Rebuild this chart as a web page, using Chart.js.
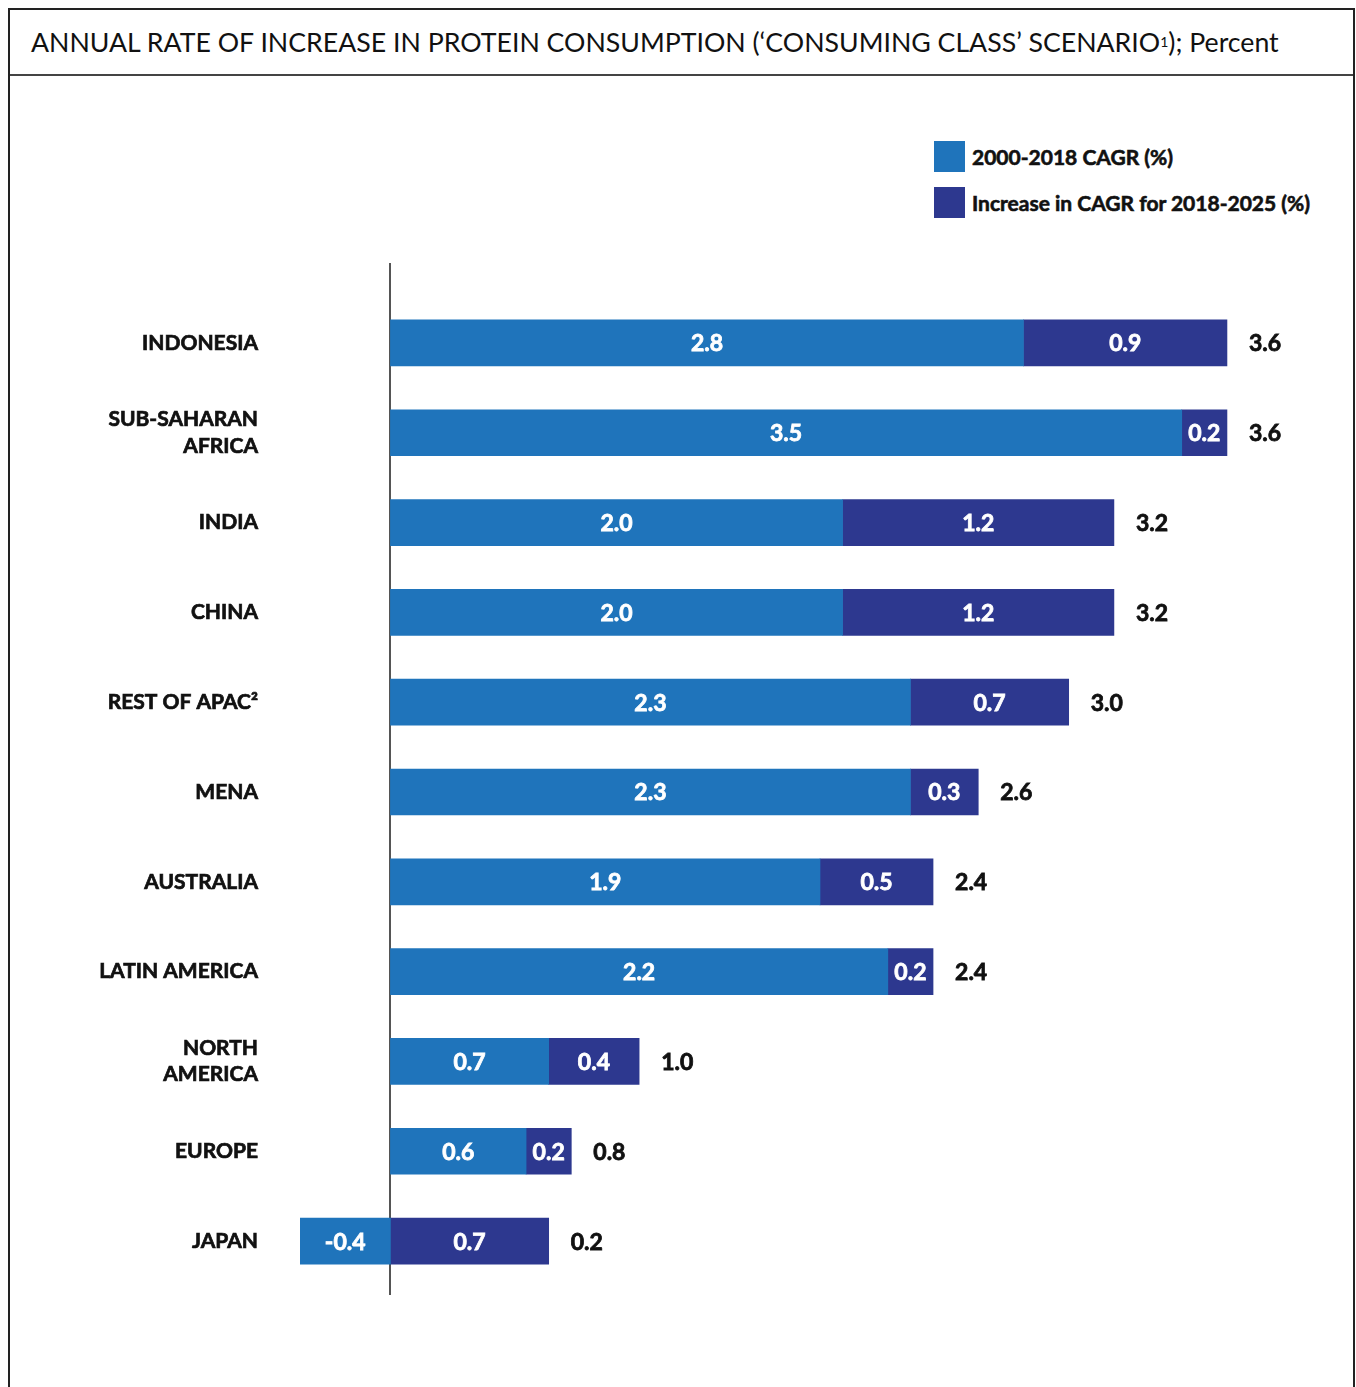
<!DOCTYPE html>
<html>
<head>
<meta charset="utf-8">
<script src="https://cdn.jsdelivr.net/npm/chart.js@4.4.1/dist/chart.umd.min.js"></script>
<style>
  html, body { margin: 0; padding: 0; background: #fff; font-family: Lato, sans-serif; }
  #wrap { position: relative; width: 1356px; height: 1387px; overflow: hidden; }
  .card { position: absolute; left: 8px; top: 8px; width: 1343px; height: 1420px; border: 2px solid #222; }
  .card .title { height: 64px; border-bottom: 2px solid #444; display: flex; align-items: center;
    padding-left: 21px; font-size: 26.7px; color: #111; }
  .card .title sup { font-size: 14px; vertical-align: 10px; line-height: 0; }
  #legend { position: absolute; left: 934px; top: 141px; }
  #legend .item { display: flex; align-items: center; height: 31px; margin-bottom: 15px;
    font-weight: bold; font-size: 21px; color: #111; -webkit-text-stroke: 0.6px #111; }
  #legend .swatch { width: 31px; height: 31px; margin-right: 7px; }
  canvas { position: absolute; left: 0; top: 0; }
</style>
</head>
<body>
<div id="wrap">
  <div class="card">
    <div class="title">ANNUAL RATE OF INCREASE IN PROTEIN CONSUMPTION (‘CONSUMING CLASS’ SCENARIO<sup>1</sup>); Percent</div>
  </div>
  <div id="legend"></div>
  <canvas id="proteinChart" width="1356" height="1387"></canvas>
</div>
<script>
  const regions = [
    ["INDONESIA"], ["SUB-SAHARAN", "AFRICA"], ["INDIA"], ["CHINA"], ["REST OF APAC²"],
    ["MENA"], ["AUSTRALIA"], ["LATIN AMERICA"], ["NORTH", "AMERICA"], ["EUROPE"], ["JAPAN"]
  ];
  const cagr2000_2018 = [2.8, 3.5, 2.0, 2.0, 2.3, 2.3, 1.9, 2.2, 0.7, 0.6, -0.4];
  const increase2018_2025 = [0.9, 0.2, 1.2, 1.2, 0.7, 0.3, 0.5, 0.2, 0.4, 0.2, 0.7];
  const totalCagr = [3.6, 3.6, 3.2, 3.2, 3.0, 2.6, 2.4, 2.4, 1.0, 0.8, 0.2];

  const seriesNames = ["2000-2018 CAGR (%)", "Increase in CAGR for 2018-2025 (%)"];
  const seriesColors = ["#1f74bb", "#2d388f"];

  // legend built from the same series names/colours
  const legendBox = document.getElementById("legend");
  seriesNames.forEach((name, i) => {
    const item = document.createElement("div");
    item.className = "item";
    item.innerHTML = `<span class="swatch" style="background:${seriesColors[i]}"></span>${name}`;
    legendBox.appendChild(item);
  });

  // vertical zero line, a bit longer than the plot area
  const zeroLine = {
    id: "zeroLine",
    beforeDatasetsDraw(chart) {
      const { ctx, chartArea, scales } = chart;
      const x = Math.round(scales.x.getPixelForValue(0));
      ctx.save();
      ctx.strokeStyle = "#555";
      ctx.lineWidth = 2;
      ctx.beginPath();
      ctx.moveTo(x, chartArea.top - 35);
      ctx.lineTo(x, chartArea.bottom + 9);
      ctx.stroke();
      ctx.restore();
    }
  };

  // heavier text: fill plus a thin stroke of the same colour
  function heavyText(ctx, txt, x, y, color) {
    ctx.fillStyle = color;
    ctx.strokeStyle = color;
    ctx.fillText(txt, x, y);
    ctx.strokeText(txt, x, y);
  }

  // value labels inside segments + totals after each bar
  const barLabels = {
    id: "barLabels",
    afterDatasetsDraw(chart) {
      const { ctx, scales } = chart;
      ctx.save();
      ctx.font = "bold 23px Lato";
      ctx.textBaseline = "middle";
      ctx.lineWidth = 0.8;
      chart.data.datasets.forEach((ds, di) => {
        chart.getDatasetMeta(di).data.forEach((bar, i) => {
          const p = bar.getProps(["x", "y", "base"], true);
          ctx.textAlign = "center";
          heavyText(ctx, ds.data[i].toFixed(1), (p.x + p.base) / 2, p.y + 1, "#fff");
        });
      });
      const yMeta = chart.getDatasetMeta(1).data;
      totalCagr.forEach((t, i) => {
        const end = Math.max(cagr2000_2018[i], 0) + increase2018_2025[i];
        ctx.textAlign = "left";
        heavyText(ctx, t.toFixed(1), scales.x.getPixelForValue(end) + 22, yMeta[i].y + 1, "#111");
      });
      ctx.restore();
    }
  };

  new Chart(document.getElementById("proteinChart"), {
    type: "bar",
    data: {
      labels: regions,
      datasets: [
        { label: seriesNames[0], data: cagr2000_2018, backgroundColor: seriesColors[0] },
        { label: seriesNames[1], data: increase2018_2025, backgroundColor: seriesColors[1] }
      ]
    },
    options: {
      indexAxis: "y",
      responsive: false,
      animation: false,
      barThickness: 46,
      layout: { padding: { top: 298, bottom: 101, left: 0, right: 16 } },
      plugins: { legend: { display: false }, tooltip: { enabled: false } },
      scales: {
        x: { stacked: true, min: -0.4, max: 4.2, display: false },
        y: {
          stacked: true,
          grid: { display: false, drawTicks: false },
          border: { display: false },
          afterFit(scale) { scale.width = 300; },
          ticks: {
            padding: 42,
            color: "#111",
            textStrokeColor: "#111",
            textStrokeWidth: 0.7,
            font: { family: "Lato", weight: "bold", size: 21, lineHeight: 1.25 }
          }
        }
      }
    },
    plugins: [zeroLine, barLabels]
  });
</script>
</body>
</html>
